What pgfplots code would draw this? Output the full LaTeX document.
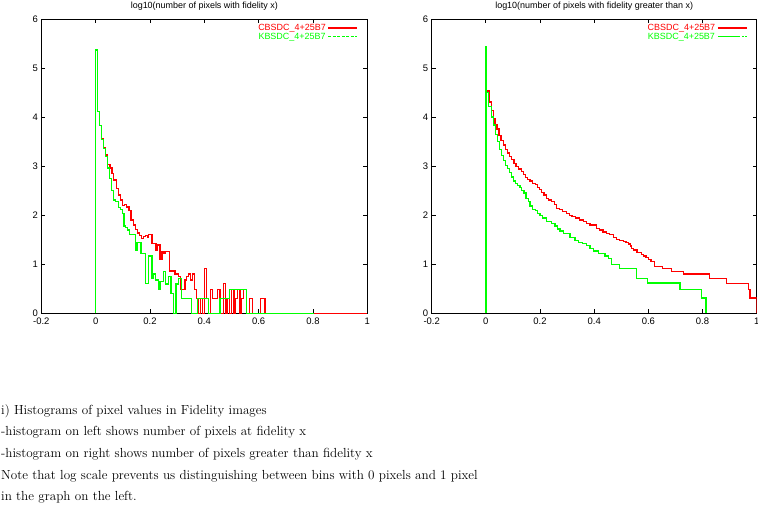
\documentclass[border=0pt]{standalone}
\usepackage{fontspec}
\newfontfamily\helv{Liberation Sans}
\usepackage{pgfplots}
\pgfplotsset{compat=1.18}
\definecolor{gpred}{RGB}{255,0,0}
\definecolor{gpgreen}{RGB}{0,255,0}
\pgfplotsset{gp/.style={
  scale only axis, width=326bp, height=294.3bp,
  xmin=-0.2, xmax=1, ymin=0, ymax=6,
  xtick={-0.2,0,0.2,0.4,0.6,0.8,1},
  xticklabels={-0.2,0,0.2,0.4,0.6,0.8,1},
  ytick={0,1,2,3,4,5,6},
  yticklabels={0,1,2,3,4,5,6},
  tick align=inside, major tick length=4bp,
  xtick pos=both, ytick pos=both,
  ticklabel style={font=\helv\fontsize{9.5}{10}\selectfont},
  xticklabel style={yshift=-1.5bp},
  axis line style={line width=0.8bp},
  every tick/.style={black, line width=0.8bp},
  every axis title shift=0pt,
  title style={font=\helv\fontsize{9}{10}\selectfont, at={(0.5,1)}, anchor=base, yshift=10.5bp},
  legend plot pos=right,
  legend style={draw=none, fill=none, at={(1,1)}, anchor=north east, xshift=-8bp, yshift=-2bp,
    font=\helv\fontsize{9}{10}\selectfont, row sep=-3bp, inner sep=1bp},
  legend image code/.code={\draw[##1] (0bp,0bp) -- (29bp,0bp);},
  every axis plot/.append style={line width=1.3bp, const plot mark left},
}}
\pgfplotsset{
  legdashA/.style={legend image code/.code={\draw[##1, dash pattern=on 3bp off 1.5bp] (0bp,0bp) -- (29bp,0bp);}},
  legdashB/.style={legend image code/.code={\draw[##1, dash pattern=on 22bp off 2bp on 2bp off 1.5bp on 2bp off 10bp] (0bp,0bp) -- (29bp,0bp);}},
}
\begin{document}
\begin{tikzpicture}
\path[use as bounding box] (0,0) rectangle (758bp,511bp);
\begin{axis}[gp, at={(41.3bp,197.7bp)}, anchor=south west,
  title={log10(number of pixels with fidelity x)}]
\addplot[draw=gpred] coordinates {(0,0)(0,5.37)(0.006,4.12)(0.013,3.83)(0.021,3.57)(0.029,3.38)(0.037,3.23)(0.044,3.04)(0.053,2.96)(0.060,2.85)(0.067,2.72)(0.076,2.55)(0.083,2.41)(0.091,2.31)(0.098,2.20)(0.107,2.22)(0.114,2.17)(0.123,2.09)(0.130,1.90)(0.139,1.80)(0.146,1.71)(0.153,1.64)(0.161,1.58)(0.168,1.53)(0.175,1.56)(0.183,1.58)(0.190,1.55)(0.195,1.60)(0.207,1.43)(0.222,1.29)(0.229,1.39)(0.237,1.09)(0.244,1.26)(0.252,1.22)(0.258,1.26)(0.271,0.86)(0.292,0.80)(0.305,0.75)(0.313,0.49)(0.329,0.68)(0.335,0.75)(0.342,0.80)(0.350,0.68)(0.357,0.80)(0.363,0.49)(0.372,0.30)(0.379,0)(0.386,0.30)(0.394,0)(0.400,0.92)(0.409,0.30)(0.416,0)(0.423,0.49)(0.431,0.30)(0.440,0.30)(0.448,0.49)(0.458,0)(0.470,0.61)(0.477,0)(0.484,0.30)(0.492,0)(0.499,0.49)(0.509,0)(0.514,0.30)(0.521,0.49)(0.531,0)(0.537,0.30)(0.545,0.49)(0.555,0)(0.566,0.30)(0.577,0)(0.608,0.30)(0.623,0)(1,0)};
\addlegendentry{\textcolor{gpred}{CBSDC\_4+25B7}}
\addplot[draw=gpgreen, legdashA] coordinates {(0,0)(0,5.37)(0.006,4.12)(0.013,3.83)(0.021,3.55)(0.028,3.36)(0.036,3.19)(0.043,2.96)(0.051,2.75)(0.058,2.51)(0.065,2.31)(0.074,2.28)(0.083,2.15)(0.091,2.12)(0.098,2.04)(0.104,1.78)(0.110,1.75)(0.117,1.70)(0.125,1.60)(0.146,1.29)(0.152,1.45)(0.167,1.22)(0.183,0.61)(0.195,1.17)(0.207,0.71)(0.213,0.80)(0.221,0.68)(0.231,0.49)(0.237,0.65)(0.249,0.85)(0.256,0.60)(0.269,0.75)(0.277,0.41)(0.286,0)(0.296,0.60)(0.304,0.71)(0.317,0.30)(0.353,0)(0.375,0.30)(0.415,0)(0.458,0.30)(0.492,0.49)(0.556,0)(0.805,0)};
\addlegendentry{\textcolor{gpgreen}{KBSDC\_4+25B7}}
\end{axis}
\begin{axis}[gp, at={(431.7bp,197.7bp)}, anchor=south west, width=325bp,
  title={log10(number of pixels with fidelity greater than x)}]
\addplot[draw=gpred] coordinates {(0,0)(0,5.43)(0.003,4.53)(0.012,4.31)(0.020,4.14)(0.028,3.97)(0.034,3.85)(0.041,3.76)(0.049,3.63)(0.056,3.53)(0.065,3.43)(0.073,3.34)(0.081,3.27)(0.088,3.19)(0.095,3.13)(0.104,3.06)(0.111,2.99)(0.120,2.94)(0.132,2.89)(0.138,2.83)(0.147,2.77)(0.153,2.73)(0.163,2.70)(0.172,2.65)(0.182,2.62)(0.190,2.57)(0.198,2.53)(0.206,2.46)(0.215,2.41)(0.225,2.34)(0.231,2.31)(0.243,2.28)(0.253,2.22)(0.262,2.14)(0.272,2.11)(0.284,2.07)(0.297,2.04)(0.309,2.00)(0.318,1.97)(0.330,1.94)(0.346,1.90)(0.361,1.87)(0.371,1.83)(0.385,1.80)(0.408,1.73)(0.420,1.70)(0.432,1.66)(0.445,1.63)(0.457,1.60)(0.472,1.55)(0.482,1.51)(0.494,1.48)(0.509,1.46)(0.517,1.44)(0.526,1.41)(0.533,1.37)(0.538,1.32)(0.546,1.29)(0.558,1.24)(0.575,1.20)(0.583,1.17)(0.591,1.14)(0.600,1.09)(0.610,1.05)(0.622,0.96)(0.653,0.92)(0.686,0.85)(0.729,0.80)(0.825,0.71)(0.889,0.61)(0.969,0.48)(0.975,0.31)(1.0,0)};
\addlegendentry{\textcolor{gpred}{CBSDC\_4+25B7}}
\addplot[draw=gpgreen, legdashB] coordinates {(0,0)(0,5.43)(0.003,4.50)(0.010,4.22)(0.020,4.00)(0.028,3.84)(0.035,3.65)(0.042,3.50)(0.050,3.34)(0.057,3.22)(0.065,3.11)(0.072,3.02)(0.080,2.95)(0.087,2.87)(0.094,2.78)(0.102,2.70)(0.109,2.64)(0.117,2.60)(0.126,2.57)(0.132,2.51)(0.141,2.45)(0.148,2.34)(0.157,2.28)(0.163,2.19)(0.172,2.12)(0.182,2.09)(0.190,2.04)(0.200,2.00)(0.209,1.94)(0.225,1.87)(0.243,1.83)(0.255,1.78)(0.264,1.72)(0.274,1.68)(0.286,1.62)(0.311,1.55)(0.329,1.49)(0.342,1.45)(0.358,1.43)(0.372,1.38)(0.385,1.32)(0.397,1.27)(0.415,1.22)(0.440,1.17)(0.452,1.12)(0.465,1.00)(0.493,0.92)(0.555,0.71)(0.597,0.62)(0.717,0.49)(0.795,0.31)(0.813,0)};
\addlegendentry{\textcolor{gpgreen}{KBSDC\_4+25B7}}
\end{axis}
\begin{scope}[every node/.style={anchor=base west, inner sep=0pt, font=\fontsize{13.2}{15}\selectfont}]
\node at (1bp,96.7bp) {i) Histograms of pixel values in Fidelity images};
\node at (1bp,75.1bp) {-histogram on left shows number of pixels at fidelity x};
\node at (1bp,53.5bp) {-histogram on right shows number of pixels greater than fidelity x};
\node at (1bp,31.9bp) {Note that log scale prevents us distinguishing between bins with 0 pixels and 1 pixel};
\node at (1bp,10.3bp) {in the graph on the left.};
\end{scope}
\end{tikzpicture}
\end{document}
